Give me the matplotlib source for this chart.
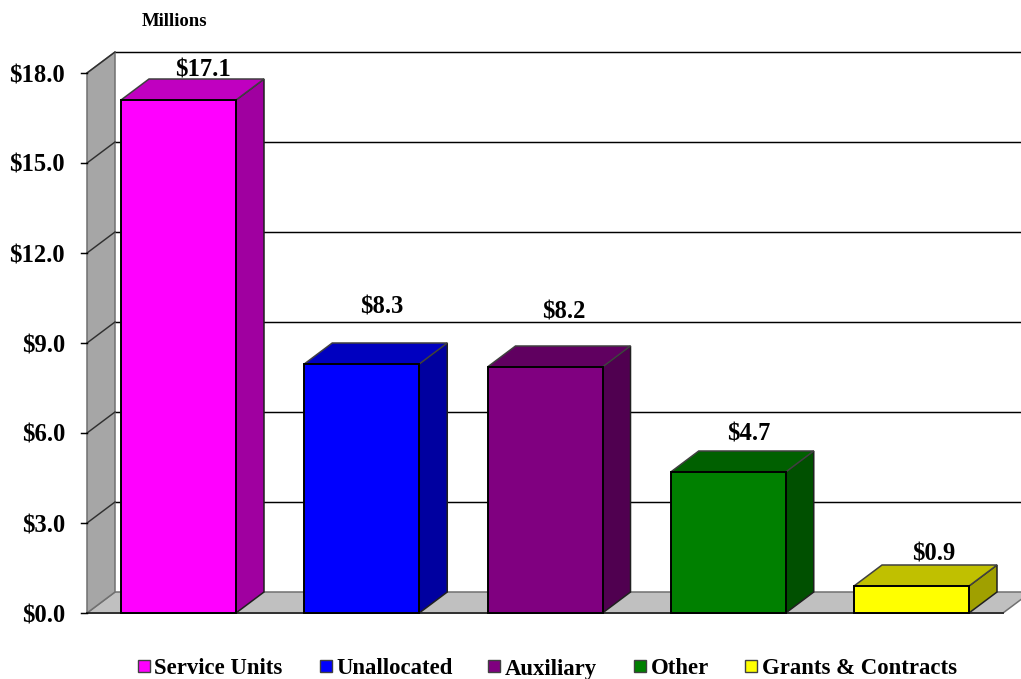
import matplotlib
matplotlib.use("Agg")
import matplotlib.pyplot as plt
from matplotlib.patches import Polygon, Rectangle

categories = ["Service Units", "Unallocated", "Auxiliary", "Other", "Grants & Contracts"]
values = [17.1, 8.3, 8.2, 4.7, 0.9]
value_labels = ["$17.1", "$8.3", "$8.2", "$4.7", "$0.9"]
label_anchor_px = [(203, 76), (382, 314), (564, 319), (749, 441), (934, 560)]
ticks = [0, 3, 6, 9, 12, 15, 18]
tick_labels = ["$0.0", "$3.0", "$6.0", "$9.0", "$12.0", "$15.0", "$18.0"]
front_colors = ["#FF00FF", "#0000FF", "#800080", "#008000", "#FFFF00"]
top_colors = ["#C000C0", "#0000C0", "#600060", "#006000", "#C0C000"]
side_colors = ["#A000A0", "#0000A0", "#500050", "#005000", "#A0A000"]
legend_box_x = [138, 320, 488, 634, 745]
legend_text_x = [154, 336, 505, 651, 762]

W, H = 1021, 679
PITCH = 183.25
X0 = 178.5
Y0 = 613
UNIT = 30
px = lambda p: (p - X0) / PITCH     # pixel column to category units
py = lambda p: (Y0 - p) / UNIT      # pixel row to value units
dx = 28 / PITCH
dy = 21 / UNIT
bw = 115 / PITCH

plt.rcParams["font.family"] = ["Liberation Serif", "DejaVu Serif"]
plt.rcParams["font.weight"] = "bold"
fig = plt.figure(figsize=(W / 100, H / 100), dpi=100, facecolor="white")
ax = fig.add_axes([0, 0, 1, 1])
ax.set_xlim(px(0), px(W))
ax.set_ylim(py(H), py(0))
ax.axis("off")

xl, xr = px(87), px(1003)
GR = "#707070"
# floor and wall
ax.add_patch(Polygon([(xl, 0), (xr, 0), (px(1031), dy), (xl + dx, dy)], closed=True,
                     fc="#C0C0C0", ec=GR, lw=1.1, zorder=1))
ax.add_patch(Polygon([(xl, 0), (xl + dx, dy), (xl + dx, 18 + dy), (xl, 18)], closed=True,
                     fc="#A6A6A6", ec=GR, lw=1.1, zorder=1.5))
ax.plot([xl, xr], [0, 0], color="#303030", lw=1.4, zorder=2)
# gridlines, wall diagonals, ticks and tick labels
for t, lab in zip(ticks, tick_labels):
    if t > 0:
        ax.plot([xl + dx, px(W + 5)], [t + dy, t + dy], color="black", lw=1.05, zorder=1.2)
        ax.plot([xl, xl + dx], [t, t + dy], color="#303030", lw=1.05, zorder=2)
    ax.plot([px(81), xl], [t, t], color="black", lw=1.05, zorder=2)
    ax.text(px(65), t - 9 / UNIT, lab, ha="right", va="baseline", fontsize=17.7, color="black", zorder=6)

# bars
for i, (h, f, tc, sc) in enumerate(zip(values, front_colors, top_colors, side_colors)):
    l, r = i - bw / 2, i + bw / 2
    ax.add_patch(Polygon([(r, 0), (r + dx, dy), (r + dx, h + dy), (r, h)], closed=True,
                         fc=sc, ec="#202020", lw=1.1, zorder=3 + i * .1))
    ax.add_patch(Polygon([(l, h), (r, h), (r + dx, h + dy), (l + dx, h + dy)], closed=True,
                         fc=tc, ec="#404040", lw=1.1, zorder=3 + i * .1))
    ax.add_patch(Rectangle((l, 0), bw, h, fc=f, ec="black", lw=1.4, zorder=3.05 + i * .1))

# value labels
for lab, (cx, cy) in zip(value_labels, label_anchor_px):
    ax.text(px(cx), py(cy), lab, ha="center", va="baseline", fontsize=17.7, color="black", zorder=6)

ax.text(px(142), py(26), "Millions", ha="left", va="baseline", fontsize=13.5,
        color="black", zorder=6)

# legend
for bx, tx, name, f in zip(legend_box_x, legend_text_x, categories, front_colors):
    ax.add_patch(Rectangle((px(bx), py(672)), 12 / PITCH, 12.5 / UNIT, fc=f, ec="#404040",
                           lw=1, zorder=5))
    ax.text(px(tx), py(674.5), name, ha="left", va="baseline", fontsize=16.4, color="black", zorder=6)

fig.savefig("out.png", dpi=100)
